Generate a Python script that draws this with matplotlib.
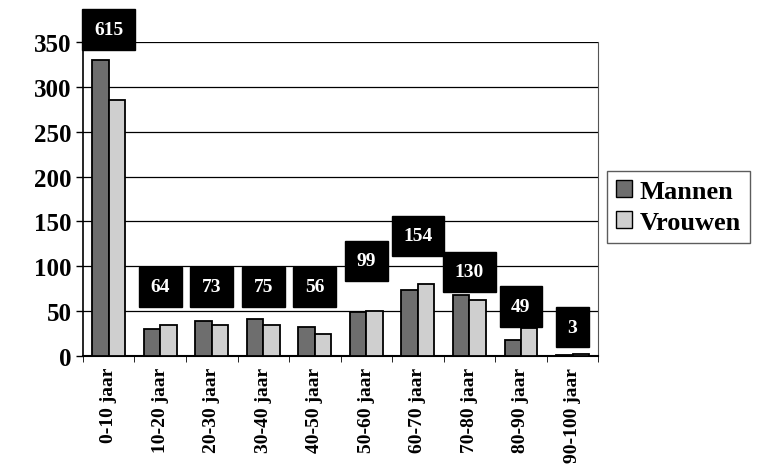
import numpy as np
import matplotlib.pyplot as plt
from matplotlib.patches import Patch

categories = ["0-10 jaar", "10-20 jaar", "20-30 jaar", "30-40 jaar", "40-50 jaar",
              "50-60 jaar", "60-70 jaar", "70-80 jaar", "80-90 jaar", "90-100 jaar"]
mannen = [330, 30, 39, 41, 32, 49, 74, 68, 18, 1]
vrouwen = [285, 34, 34, 34, 24, 50, 80, 62, 31, 2]
totals = [615, 64, 73, 75, 56, 99, 154, 130, 49, 3]

# where the total boxes sit (data units), as in the original
label_y = [364, 77, 77, 77, 77, 106, 134, 94, 55, 32]

serif = ["Liberation Serif", "DejaVu Serif"]

fig = plt.figure(figsize=(7.75, 4.77), dpi=100)
ax = fig.add_axes([0.107, 0.2516, 0.665, 0.658])

x = np.arange(len(categories))
w = 0.32
ax.bar(x - w / 2, mannen, w, color="#6e6e6e", edgecolor="black", linewidth=1.3, zorder=3, label="Mannen")
ax.bar(x + w / 2, vrouwen, w, color="#cfcfcf", edgecolor="black", linewidth=1.3, zorder=3, label="Vrouwen")

for i, t in enumerate(totals):
    ax.text(x[i], label_y[i], str(t), ha="center", va="center", color="white",
            fontsize=14, fontweight="bold", family=serif, zorder=5, clip_on=False,
            bbox=dict(boxstyle="square,pad=0.6", facecolor="black", edgecolor="black"))

ax.set_xlim(-0.5, len(categories) - 0.5)
ax.set_ylim(0, 350)
ax.set_yticks(range(0, 351, 50))
ax.yaxis.grid(True, color="black", linewidth=0.9, zorder=0)
ax.set_axisbelow(True)

ax.set_xticks(x)
ax.set_xticklabels(categories, rotation=90, fontsize=14, fontweight="bold", family=serif)
ax.set_xticks(np.arange(-0.5, len(categories), 1), minor=True)
ax.tick_params(axis="x", which="major", length=0, pad=8)
ax.tick_params(axis="x", which="minor", length=4, color="black")
ax.tick_params(axis="y", length=5, width=1, labelsize=18, pad=3)
for lab in ax.get_yticklabels():
    lab.set_fontweight("bold")
    lab.set_family(serif)

ax.spines["top"].set_visible(False)
ax.spines["right"].set_color("#555555")
ax.spines["left"].set_linewidth(1.2)
ax.spines["bottom"].set_linewidth(1.5)

handles = [Patch(facecolor="#6e6e6e", edgecolor="black", label="Mannen"),
           Patch(facecolor="#cfcfcf", edgecolor="black", label="Vrouwen")]
leg = fig.legend(handles=handles, loc="upper left", bbox_to_anchor=(0.783, 0.64),
                 borderaxespad=0,
                 prop={"family": serif, "weight": "bold", "size": 19},
                 frameon=True, fancybox=False, handlelength=0.6, handleheight=0.6,
                 handletextpad=0.3, borderpad=0.35, labelspacing=0.3)
leg.get_frame().set_edgecolor("#333333")
leg.get_frame().set_linewidth(1.0)

fig.savefig("out.png", dpi=100)
